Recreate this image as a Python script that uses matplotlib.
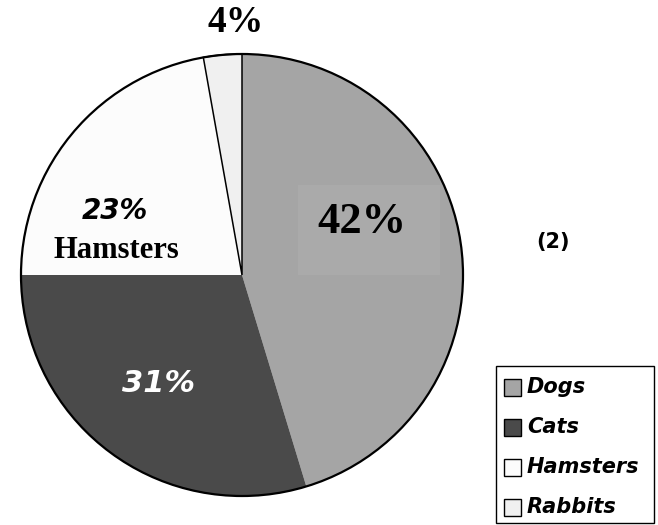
import matplotlib.pyplot as plt
from matplotlib.patches import Circle, Rectangle

# slice shares as drawn in the picture, and the printed labels
pets = ['Dogs', 'Cats', 'Hamsters', 'Rabbits']
shares = [45.3, 29.7, 22.2, 2.8]
pct_labels = ['42%', '31%', '23%', '4%']
colors = ['#a5a5a5', '#4a4a4a', '#fcfcfc', '#f0f0f0']

W, H = 658, 525
fig = plt.figure(figsize=(W / 100, H / 100), dpi=100)
fig.patch.set_facecolor('white')
ax = fig.add_axes([0, 0, 1, 1])

cx, cy, r = 242, H - 275, 221
wedges, _ = ax.pie(shares, colors=colors, startangle=90, counterclock=False,
                   center=(cx, cy), radius=r,
                   wedgeprops=dict(linewidth=0))
# rabbits slice has black boundary lines
wedges[3].set_edgecolor('black')
wedges[3].set_linewidth(1.1)
ax.add_patch(Circle((cx, cy), r, fill=False, edgecolor='black', linewidth=1.6))

ax.set_xlim(0, W)
ax.set_ylim(0, H)
ax.set_aspect('auto')
ax.axis('off')

serif = 'Liberation Serif'
sans = 'DejaVu Sans'

# faint box behind the dogs label
ax.add_patch(Rectangle((298, H - 275), 142, 90, facecolor='#aaaaaa', edgecolor='none'))
ax.text(362, H - 222, pct_labels[0], fontsize=32, fontweight='bold', family=serif,
        ha='center', va='center')
ax.text(158, H - 383, pct_labels[1], fontsize=22, fontweight='bold', style='italic',
        family=sans, color='white', ha='center', va='center')
ax.text(115, H - 211, pct_labels[2], fontsize=20, fontweight='bold', style='italic',
        family=sans, ha='center', va='center')
ax.text(116, H - 251, pets[2], fontsize=22, fontweight='bold', family=serif,
        ha='center', va='center')
ax.text(236, H - 23, pct_labels[3], fontsize=27, fontweight='bold', family=serif,
        ha='center', va='center')

ax.text(553, H - 242, '(2)', fontsize=15, fontweight='bold', family=sans,
        ha='center', va='center')

# legend box
ax.add_patch(Rectangle((496, H - 523), 158, 157, fill=False, edgecolor='black', linewidth=1.0))
for i, (pet, col) in enumerate(zip(pets, colors)):
    y = 387 + i * 40
    ax.add_patch(Rectangle((504, H - y - 8.5), 17, 17, facecolor=col,
                           edgecolor='black', linewidth=1.0))
    ax.text(527, H - y, pet, fontsize=15, fontweight='bold', style='italic',
            family=sans, ha='left', va='center')

fig.savefig('out.png', dpi=100)
